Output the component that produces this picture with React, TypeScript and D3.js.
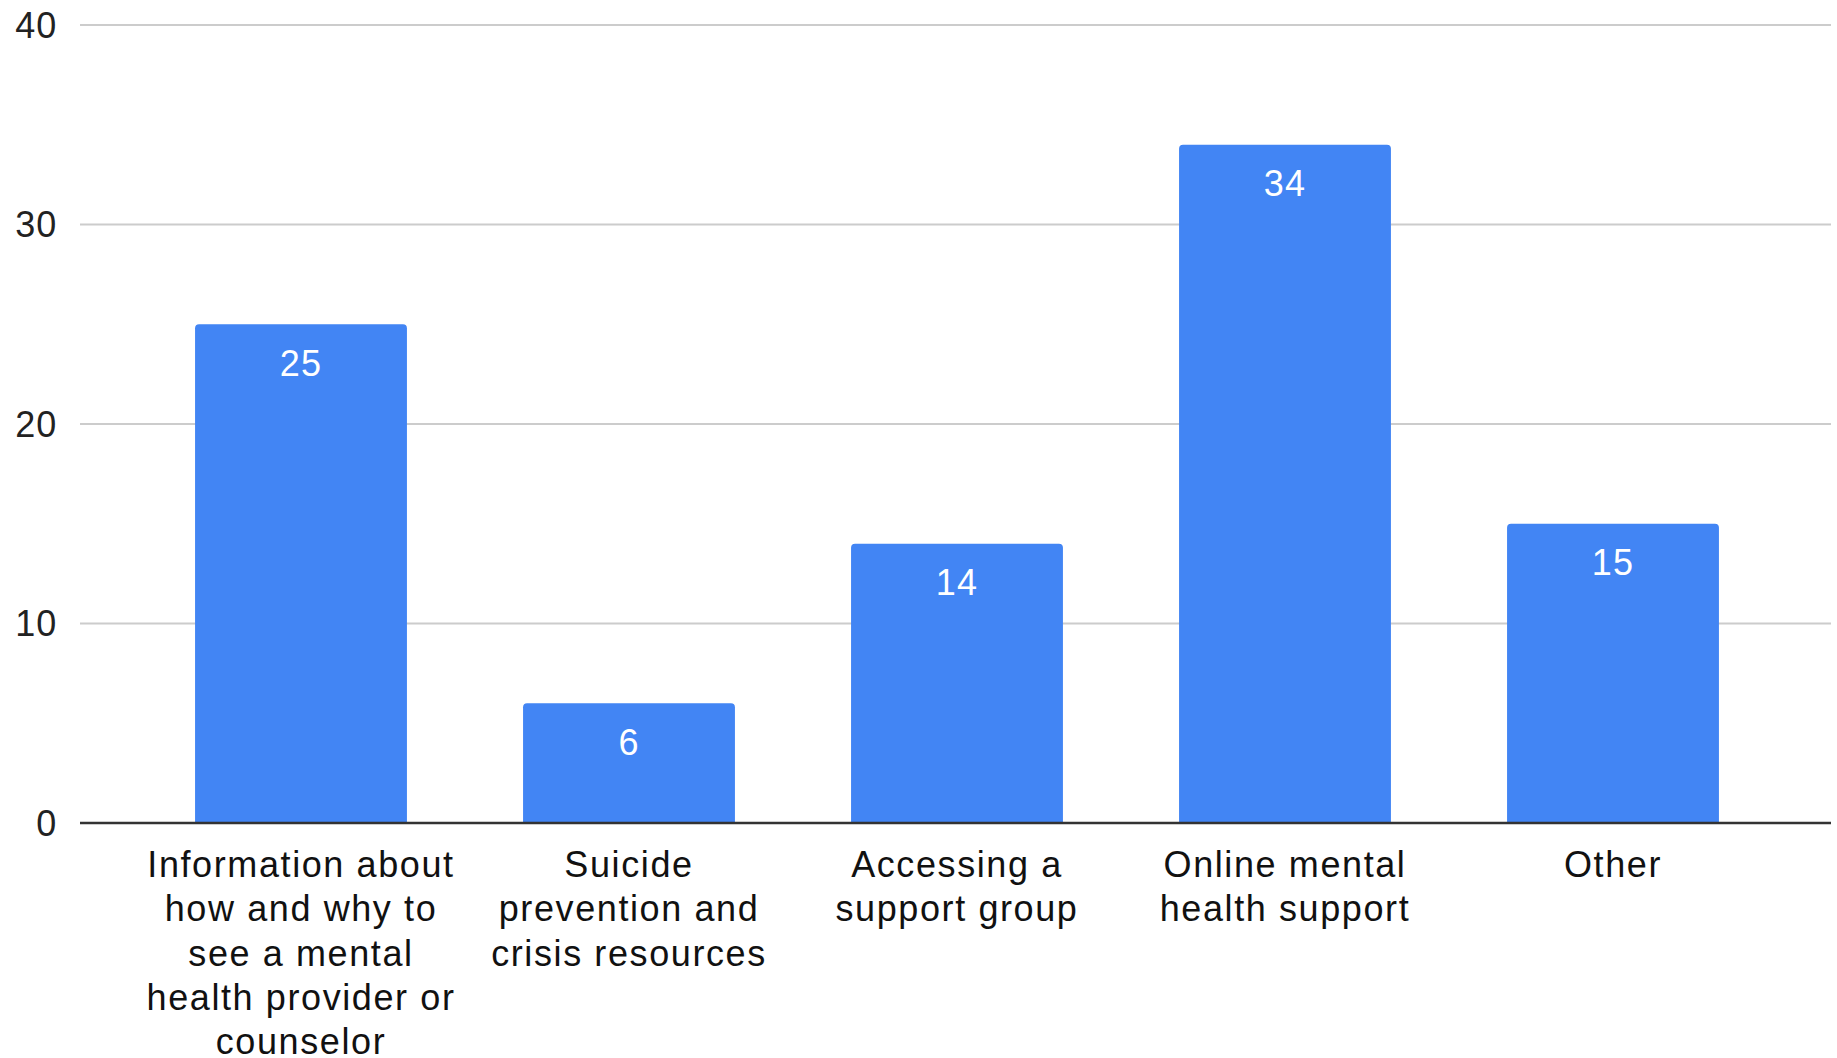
import React from "react";
import * as d3 from "d3";

const categories = [
  "Information about how and why to see a mental health provider or counselor",
  "Suicide prevention and crisis resources",
  "Accessing a support group",
  "Online mental health support",
  "Other",
];
const categoryLines = [
  ["Information about", "how and why to", "see a mental", "health provider or", "counselor"],
  ["Suicide", "prevention and", "crisis resources"],
  ["Accessing a", "support group"],
  ["Online mental", "health support"],
  ["Other"],
];
const values = [25, 6, 14, 34, 15];
const yTicks = [0, 10, 20, 30, 40];

const W = 1837;
const H = 1058;
const FONT = "'Liberation Sans', Arial, sans-serif";

export default function App() {
  const x = d3
    .scaleBand<string>()
    .domain(categories)
    .range([137, 1777])
    .paddingInner(0.354)
    .paddingOuter(0.177);
  const y = d3.scaleLinear().domain([0, 40]).range([823, 25]);
  const r = 4;

  const barPath = (x0: number, w: number, yTop: number, yBot: number) => {
    const p = d3.path();
    p.moveTo(x0, yBot);
    p.lineTo(x0, yTop + r);
    p.quadraticCurveTo(x0, yTop, x0 + r, yTop);
    p.lineTo(x0 + w - r, yTop);
    p.quadraticCurveTo(x0 + w, yTop, x0 + w, yTop + r);
    p.lineTo(x0 + w, yBot);
    p.closePath();
    return p.toString();
  };

  return (
    <svg
      width={W}
      height={H}
      style={{ position: "absolute", left: 0, top: 0, background: "#fff" }}
      fontFamily={FONT}
    >
      {yTicks.map((t) => (
        <g key={t}>
          {t !== 0 && (
            <line x1={80} x2={1831} y1={y(t)} y2={y(t)} stroke="#cccccc" strokeWidth={2} />
          )}
          <text
            x={57}
            y={y(t)}
            textAnchor="end"
            dominantBaseline="central"
            fontSize={36}
            letterSpacing={0.8}
            fill="#222"
          >
            {t}
          </text>
        </g>
      ))}
      {categories.map((c, i) => {
        const bx = x(c)!;
        const bw = x.bandwidth();
        return (
          <g key={c}>
            <path d={barPath(bx, bw, y(values[i]), y(0))} fill="#4285f4" />
            <text
              x={bx + bw / 2}
              y={y(values[i]) + 39}
              textAnchor="middle"
              dominantBaseline="central"
              fontSize={36}
              letterSpacing={1.2}
              fill="#ffffff"
            >
              {values[i]}
            </text>
            {categoryLines[i].map((ln, j) => (
              <text
                key={j}
                x={bx + bw / 2}
                y={877 + j * 44.3}
                textAnchor="middle"
                fontSize={36}
                letterSpacing={1.6}
                fill="#111"
              >
                {ln}
              </text>
            ))}
          </g>
        );
      })}
      <line x1={80} x2={1831} y1={y(0)} y2={y(0)} stroke="#333333" strokeWidth={2.5} />
    </svg>
  );
}
